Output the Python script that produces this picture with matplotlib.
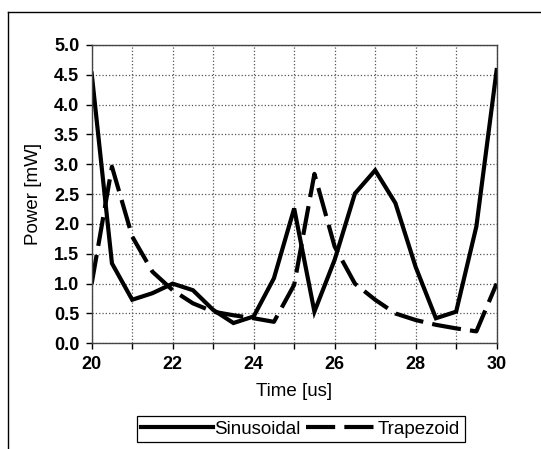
import matplotlib.pyplot as plt
from matplotlib.lines import Line2D
from matplotlib.ticker import MultipleLocator

plt.rcParams['font.family'] = ['Liberation Sans', 'DejaVu Sans']

time_us = [20.0, 20.5, 21.0, 21.5, 22.0, 22.5, 23.0, 23.5, 24.0, 24.5, 25.0,
           25.5, 26.0, 26.5, 27.0, 27.5, 28.0, 28.5, 29.0, 29.5, 30.0]
sinusoidal = [4.52, 1.34, 0.73, 0.84, 1.00, 0.89, 0.56, 0.34, 0.45, 1.09, 2.26,
              0.53, 1.40, 2.51, 2.90, 2.35, 1.28, 0.42, 0.53, 1.96, 4.58]
trapezoid = [1.00, 2.96, 1.79, 1.20, 0.89, 0.67, 0.53, 0.47, 0.42, 0.36, 0.98,
             2.84, 1.62, 1.00, 0.73, 0.50, 0.39, 0.31, 0.25, 0.20, 1.00]

fig = plt.figure(figsize=(5.41, 4.49), dpi=100)
ax = fig.add_axes([0.1695, 0.2354, 0.7485, 0.6644])

ax.plot(time_us, sinusoidal, color='black', lw=3, solid_joinstyle='miter',
        label='Sinusoidal')
ax.plot(time_us, trapezoid, color='black', lw=3, dashes=(7, 2.2),
        label='Trapezoid')

ax.set_xlim(20, 30)
ax.set_ylim(0, 5)
ax.xaxis.set_major_locator(MultipleLocator(2))
ax.xaxis.set_minor_locator(MultipleLocator(1))
ax.yaxis.set_major_locator(MultipleLocator(0.5))
ax.grid(True, which='both', color='#555555', linestyle=':', linewidth=0.9)
ax.set_axisbelow(True)

ax.set_yticklabels([f'{v:.1f}' for v in ax.get_yticks()])
ax.tick_params(axis='both', which='major', labelsize=13, direction='out',
               length=4, width=1, pad=5)
ax.tick_params(axis='x', which='minor', length=4, width=1)
for lbl in ax.get_xticklabels() + ax.get_yticklabels():
    lbl.set_fontweight('bold')

for s in ax.spines.values():
    s.set_color('#444444')
    s.set_linewidth(1)

ax.set_xlabel('Time [us]', fontsize=13.5, labelpad=7)
ax.set_ylabel('Power [mW]', fontsize=13.5, labelpad=8.5)

leg = fig.legend(loc='center', bbox_to_anchor=(0.556, 0.0445), ncol=2,
                 fontsize=13.5, handlelength=3.8, handletextpad=0.05,
                 columnspacing=0.3, borderpad=0.25, fancybox=False,
                 edgecolor='black', framealpha=1)
leg.get_frame().set_linewidth(0.9)

# outer chart border (top and left edges visible in the scan)
fig.add_artist(Line2D([8 / 541, 1.0], [1 - 12 / 449, 1 - 12 / 449],
                      transform=fig.transFigure, color='black', lw=1))
fig.add_artist(Line2D([8 / 541, 8 / 541], [1 - 12 / 449, 0.0],
                      transform=fig.transFigure, color='black', lw=1))

fig.savefig('out.png', dpi=100)
